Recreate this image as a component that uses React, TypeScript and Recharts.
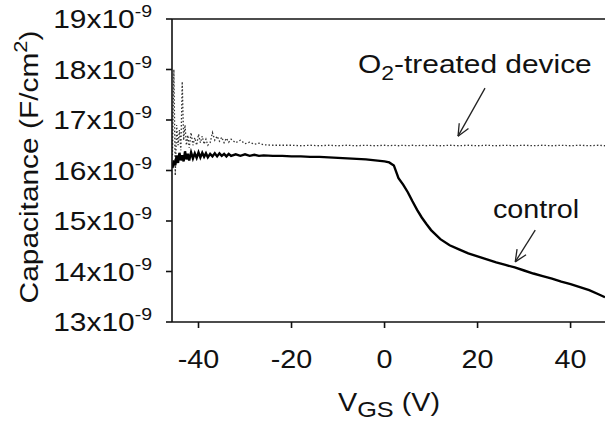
import { LineChart, Line, XAxis, YAxis, ReferenceLine, ReferenceDot } from "recharts"

// gate voltage (V) and capacitance (x10^-9 F/cm2)
const vgs = [
  -45.6, -45.3, -45.0, -44.7, -44.4, -44.1, -43.8, -43.5, -43.2, -42.9, -42.6, -42.3, -42.0,
  -41.6, -41.2, -40.8, -40.4, -40.0, -39.6, -39.2, -38.8, -38.4, -38.0, -37.5, -37.0, -36.5,
  -36.0, -35.5, -35.0, -34.5, -34.0, -33.5, -33.0, -32.0, -31.0, -30.0, -29.0, -28.0, -27.0,
  -26.0, -24, -22, -20, -18, -16, -14, -12, -10, -8, -6, -4, -2, 0, 1, 2, 3, 4, 5, 6, 7, 8, 9,
  10, 12, 14, 16, 18, 20, 22, 24, 26, 28, 30, 32, 34, 36, 38, 40, 42, 44, 46, 47.4,
]
const o2Treated = [
  16.3, 18.0, 15.9, 16.9, 16.5, 16.8, 16.4, 17.76, 16.6, 16.9, 16.5, 16.7, 16.45,
  16.75, 16.5, 16.65, 16.5, 16.72, 16.55, 16.68, 16.52, 16.62, 16.5, 16.55, 16.75, 16.6,
  16.68, 16.58, 16.66, 16.55, 16.64, 16.56, 16.62, 16.55, 16.6, 16.53, 16.56, 16.52, 16.54,
  16.51, 16.5, 16.5, 16.5, 16.49, 16.5, 16.49, 16.5, 16.49, 16.5, 16.49, 16.5, 16.49, 16.5, 16.49, 16.5, 16.49, 16.5, 16.49, 16.5, 16.49, 16.5, 16.49,
  16.5, 16.49, 16.5, 16.49, 16.5, 16.49, 16.5, 16.49, 16.5, 16.49, 16.5, 16.49, 16.5, 16.49, 16.5, 16.49, 16.5, 16.49, 16.5, 16.49,
]
const control = [
  16.05, 16.2, 16.1, 16.3, 16.15, 16.35, 16.2, 16.3, 16.18, 16.38, 16.22, 16.33, 16.2,
  16.36, 16.24, 16.34, 16.25, 16.36, 16.26, 16.35, 16.27, 16.34, 16.26, 16.33, 16.28, 16.34,
  16.28, 16.34, 16.29, 16.33, 16.28, 16.33, 16.29, 16.32, 16.29, 16.32, 16.29, 16.31, 16.29,
  16.3, 16.29, 16.29, 16.28, 16.28, 16.27, 16.27, 16.26, 16.25, 16.24, 16.23, 16.22, 16.2, 16.18, 16.16, 16.1, 15.85, 15.72, 15.57, 15.39, 15.22, 15.07, 14.94,
  14.82, 14.64, 14.52, 14.44, 14.36, 14.3, 14.24, 14.18, 14.13, 14.08, 14.02, 13.96, 13.91, 13.86, 13.8, 13.75, 13.69, 13.63, 13.55, 13.49,
]
const xTicks = [-40, -20, 0, 20, 40]
const yTicks = [13, 14, 15, 16, 17, 18, 19]

const data = vgs.map((v, i) => ({ vgs: v, o2: o2Treated[i], control: control[i] }))

const X_MIN = -45.7
const X_MAX = 47.4
const Y_MIN = 13
const Y_MAX = 19

// plot box (same numbers as the chart margins / axis sizes below)
const W = 605
const H = 421
const LEFT = 172
const TOP = 19
const XAXIS_H = 99
const BOTTOM = H - XAXIS_H
const px = (v: number) => LEFT + ((v - X_MIN) / (X_MAX - X_MIN)) * (W - LEFT)
const py = (c: number) => BOTTOM - ((c - Y_MIN) / (Y_MAX - Y_MIN)) * (BOTTOM - TOP)

const FONT = "'Liberation Sans', Arial, sans-serif"
const SX = 1.15
const INK = "#111"

const XTick = ({ x, y, payload }: any) => (
  <text transform={`translate(${x},${y + 38}) scale(${SX},1)`} textAnchor="middle" fontSize={25} fontFamily={FONT} fill={INK}>
    {payload.value}
  </text>
)

const YTick = ({ x, y, payload }: any) => (
  <text transform={`translate(${x - 12},${y + 9}) scale(${SX},1)`} textAnchor="end" fontSize={26} fontFamily={FONT} fill={INK}>
    {payload.value}x10
    <tspan dy={-11} fontSize={17}>-9</tspan>
  </text>
)

const Arrow = (p: any) => {
  const { x1, y1, x2, y2 } = p
  const a = Math.atan2(y2 - y1, x2 - x1)
  const L = 13
  const s = 0.42
  return (
    <g stroke="#222" strokeWidth={1.3} fill="none">
      <line x1={x1} y1={y1} x2={x2} y2={y2} />
      <line x1={x2} y1={y2} x2={x2 - L * Math.cos(a - s)} y2={y2 - L * Math.sin(a - s)} />
      <line x1={x2} y1={y2} x2={x2 - L * Math.cos(a + s)} y2={y2 - L * Math.sin(a + s)} />
    </g>
  )
}

const O2Label = ({ cx, cy }: any) => (
  <text transform={`translate(${cx},${cy}) scale(${SX},1)`} fontSize={26} fontFamily={FONT} fill={INK}>
    O<tspan dy={7} fontSize={20}>2</tspan>
    <tspan dy={-7}>-treated device</tspan>
  </text>
)

const ControlLabel = ({ cx, cy }: any) => (
  <text transform={`translate(${cx},${cy}) scale(${SX},1)`} fontSize={25} fontFamily={FONT} fill={INK}>
    control
  </text>
)

const App = () => {
  return (
    <div style={{ position: "absolute", left: 0, top: 0, background: "#fff" }}>
      <LineChart width={W} height={H} data={data} margin={{ top: TOP, right: 0, left: 0, bottom: 0 }}>
        <XAxis
          dataKey="vgs"
          type="number"
          domain={[X_MIN, X_MAX]}
          ticks={xTicks}
          allowDataOverflow
          height={XAXIS_H}
          tickSize={6}
          axisLine={false}
          tickLine={false}
          tick={<XTick />}
        />
        <YAxis
          type="number"
          domain={[Y_MIN, Y_MAX]}
          ticks={yTicks}
          width={LEFT}
          tickSize={6}
          axisLine={false}
          tickLine={false}
          tick={<YTick />}
        />
        <Line type="linear" dataKey="o2" stroke="#333" strokeWidth={1.3} strokeDasharray="1.5 2" dot={false} isAnimationActive={false} />
        <Line type="linear" dataKey="control" stroke="#000" strokeWidth={2.4} dot={false} isAnimationActive={false} />
        <ReferenceLine segment={[{ x: 21.6, y: 17.63 }, { x: 15.8, y: 16.68 }]} shape={<Arrow />} />
        <ReferenceLine segment={[{ x: 32.4, y: 14.82 }, { x: 28.1, y: 14.19 }]} shape={<Arrow />} />
        <ReferenceDot x={-5.7} y={17.93} r={0} shape={<O2Label />} />
        <ReferenceDot x={23.3} y={15.06} r={0} shape={<ControlLabel />} />
      </LineChart>
      <svg width={W} height={H} style={{ position: "absolute", left: 0, top: 0, pointerEvents: "none" }}>
        {/* frame: left axis, bottom axis, top border */}
        <g stroke={INK} strokeWidth={1.6} fill="none">
          <line x1={px(X_MIN)} y1={py(Y_MAX)} x2={px(X_MIN)} y2={py(Y_MIN)} />
          <line x1={px(X_MIN)} y1={py(Y_MIN)} x2={px(X_MAX)} y2={py(Y_MIN)} />
          <line x1={px(X_MIN)} y1={py(Y_MAX)} x2={px(X_MAX)} y2={py(Y_MAX)} />
          {xTicks.map((t) => (
            <line key={`x${t}`} x1={px(t)} y1={py(Y_MIN)} x2={px(t)} y2={py(Y_MIN) + 6} />
          ))}
          {yTicks.map((t) => (
            <line key={`y${t}`} x1={px(X_MIN) - 6} y1={py(t)} x2={px(X_MIN)} y2={py(t)} />
          ))}
        </g>
        <text transform={`translate(38,167) rotate(-90) scale(${SX},1)`} textAnchor="middle" fontSize={26} fontFamily={FONT} fill={INK}>
          Capacitance (F/cm<tspan dy={-11} fontSize={19}>2</tspan>
          <tspan dy={11}>)</tspan>
        </text>
        <text transform={`translate(389,411) scale(${SX},1)`} textAnchor="middle" fontSize={25} fontFamily={FONT} fill={INK}>
          V<tspan dy={6} fontSize={22}>GS</tspan>
          <tspan dy={-6}> (V)</tspan>
        </text>
      </svg>
    </div>
  )
}

export default App
